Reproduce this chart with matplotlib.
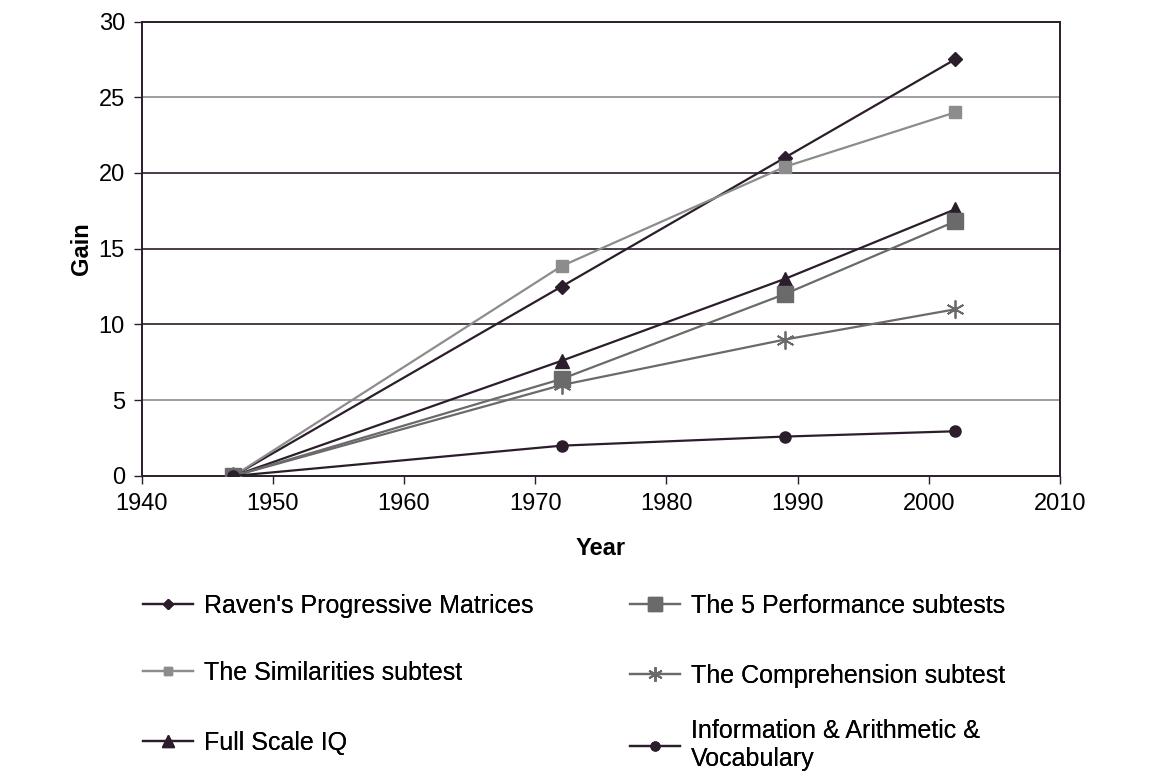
import matplotlib
matplotlib.use("Agg")
import matplotlib.pyplot as plt

years = [1947, 1972, 1989, 2002]
raven = [0, 12.5, 21.0, 27.5]
similarities = [0, 13.85, 20.4, 24.0]
full_scale = [0, 7.6, 13.0, 17.6]
performance = [0, 6.4, 12.0, 16.8]
comprehension = [0, 6.0, 9.0, 11.0]
info_arith_vocab = [0, 2.0, 2.6, 2.95]

xticks = [1940, 1950, 1960, 1970, 1980, 1990, 2000, 2010]
yticks = [0, 5, 10, 15, 20, 25, 30]

plt.rcParams['font.family'] = ['Liberation Sans', 'DejaVu Sans']

DARK = '#2b1d2b'
LIGHT = '#8c8c8c'
MID = '#6a6a6a'

W, H = 1163, 779
fig = plt.figure(figsize=(W / 100, H / 100), dpi=100)
ax = fig.add_axes([0.1218, 0.3890, 0.9115 - 0.1218, 0.9724 - 0.3890])

grid_colors = {5: '#8c8c8c', 10: DARK, 15: DARK, 20: DARK, 25: '#8c8c8c'}
for yv, c in grid_colors.items():
    ax.axhline(yv, color=c, lw=1.2, zorder=0)

series = [
    ("Raven's Progressive Matrices", raven, dict(color=DARK, marker='D', ms=7, mfc=DARK, mec=DARK)),
    ("The Similarities subtest", similarities, dict(color=LIGHT, marker='s', ms=8, mfc=LIGHT, mec=LIGHT)),
    ("Full Scale IQ", full_scale, dict(color=DARK, marker='^', ms=10, mfc=DARK, mec=DARK)),
    ("The 5 Performance subtests", performance, dict(color=MID, marker='s', ms=12, mfc=MID, mec=MID)),
    ("The Comprehension subtest", comprehension, dict(color=MID, marker=(6, 2, 0), ms=13, mfc=MID, mec=MID, mew=1.3)),
    ("Information & Arithmetic &\nVocabulary", info_arith_vocab, dict(color=DARK, marker='o', ms=8, mfc=DARK, mec=DARK)),
]

handles = []
for label, vals, st in series:
    h, = ax.plot(years, vals, lw=1.6, label=label, zorder=3, **st)
    handles.append(h)

ax.set_xlim(1940, 2010)
ax.set_ylim(0, 30)
ax.set_xticks(xticks)
ax.set_yticks(yticks)
ax.tick_params(direction='out', length=6, width=1.0, labelsize=17, pad=6, color=DARK)
for s in ax.spines.values():
    s.set_color(DARK)
    s.set_linewidth(1.4)

ax.set_xlabel('Year', fontsize=17, fontweight='bold', labelpad=16)
ax.set_ylabel('Gain', fontsize=17, fontweight='bold', labelpad=4)

# legend entry anchor positions in pixels (left, vertical centre)
legend_pos = [(143, 606), (143, 673), (143, 743), (630, 606), (630, 676), (630, 745)]
for h, (label, _, _), (px, py) in zip(handles, series, legend_pos):
    lg = fig.legend([h], [label], loc='center left',
                    bbox_to_anchor=(px / W, 1 - py / H),
                    frameon=False, fontsize=18, handlelength=2.0, handletextpad=0.44,
                    borderpad=0, borderaxespad=0, markerscale=0.8)
    for t in lg.get_texts():
        t.set_linespacing(1.25)
    fig.add_artist(lg)

fig.savefig('out.png', dpi=100)
